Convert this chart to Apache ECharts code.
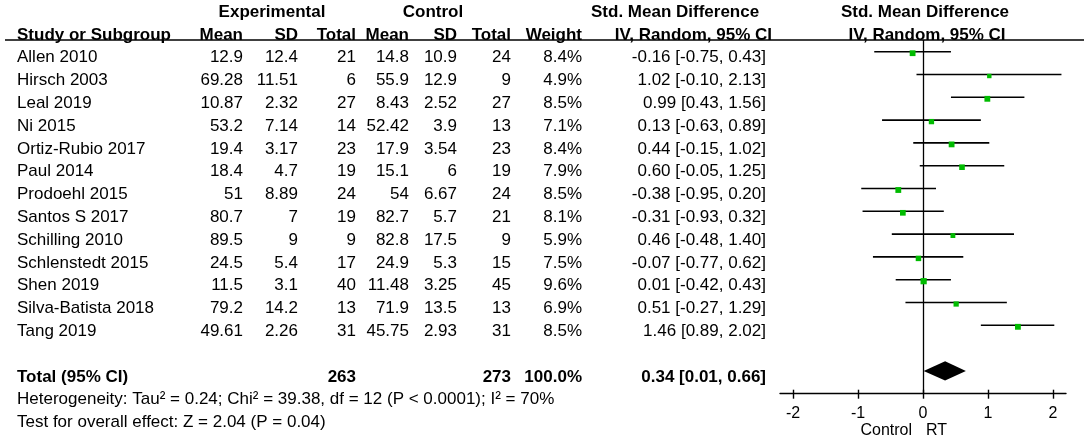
<!DOCTYPE html>
<html>
<head>
<meta charset="utf-8">
<title>Forest plot</title>
<script src="https://cdn.jsdelivr.net/npm/echarts@6/dist/echarts.min.js"></script>
<style>
	html, body {margin: 0; padding: 0; background: #fff;}
	#chart {width: 1084px; height: 441px;}
</style>
</head>
<body>
<div id="chart"></div>
<script>
// study rows
let studies = ['Allen 2010', 'Hirsch 2003', 'Leal 2019', 'Ni 2015', 'Ortiz-Rubio 2017', 'Paul 2014',
	'Prodoehl 2015', 'Santos S 2017', 'Schilling 2010', 'Schlenstedt 2015', 'Shen 2019',
	'Silva-Batista 2018', 'Tang 2019'];
let expMean = [12.9, 69.28, 10.87, 53.2, 19.4, 18.4, 51, 80.7, 89.5, 24.5, 11.5, 79.2, 49.61];
let expSD = [12.4, 11.51, 2.32, 7.14, 3.17, 4.7, 8.89, 7, 9, 5.4, 3.1, 14.2, 2.26];
let expN = [21, 6, 27, 14, 23, 19, 24, 19, 9, 17, 40, 13, 31];
let ctlMean = [14.8, 55.9, 8.43, 52.42, 17.9, 15.1, 54, 82.7, 82.8, 24.9, 11.48, 71.9, 45.75];
let ctlSD = [10.9, 12.9, 2.52, 3.9, 3.54, 6, 6.67, 5.7, 17.5, 5.3, 3.25, 13.5, 2.93];
let ctlN = [24, 9, 27, 13, 23, 19, 24, 21, 9, 15, 45, 13, 31];
let weight = [8.4, 4.9, 8.5, 7.1, 8.4, 7.9, 8.5, 8.1, 5.9, 7.5, 9.6, 6.9, 8.5];
let smd = [-0.16, 1.02, 0.99, 0.13, 0.44, 0.60, -0.38, -0.31, 0.46, -0.07, 0.01, 0.51, 1.46];
let lower = [-0.75, -0.10, 0.43, -0.63, -0.15, -0.05, -0.95, -0.93, -0.48, -0.77, -0.42, -0.27, 0.89];
let upper = [0.43, 2.13, 1.56, 0.89, 1.02, 1.25, 0.20, 0.32, 1.40, 0.62, 0.43, 1.29, 2.02];

// pooled result
let totalExpN = 263;
let totalCtlN = 273;
let totalWeight = 100.0;
let totalSmd = [0.34, 0.01, 0.66]; // estimate, lower, upper
let heterogeneity = 'Heterogeneity: Tau² = 0.24; Chi² = 39.38, df = 12 (P < 0.0001); I² = 70%';
let overallTest = 'Test for overall effect: Z = 2.04 (P = 0.04)';

let axisTicks = [-2, -1, 0, 1, 2];
let favours = ['Control', 'RT'];

// layout (pixels of the table columns, right edges unless noted)
let FONT = "'Liberation Sans', Arial, sans-serif";
let col = {name: 17, eMean: 243, eSD: 298, eN: 356, cMean: 409, cSD: 457, cN: 511, w: 582, ci: 766};
let ROW = 22.8;
let totalRow = studies.length + 1;

function ciText(e, l, u)
{
	return e.toFixed(2) + ' [' + l.toFixed(2) + ', ' + u.toFixed(2) + ']';
}

// all table cells, rows are row indexes (header rows negative)
let cells = [];
function cell(x, row, text, align, bold)
{
	cells.push({x: x, row: row, text: String(text), align: align || 'right', bold: !!bold});
}

cell(272, -2, 'Experimental', 'center', true);
cell(433, -2, 'Control', 'center', true);
cell(591, -2, 'Std. Mean Difference', 'left', true);
cell(925, -2, 'Std. Mean Difference', 'center', true);
cell(col.name, -1, 'Study or Subgroup', 'left', true);
cell(col.eMean, -1, 'Mean', 'right', true);
cell(col.eSD, -1, 'SD', 'right', true);
cell(col.eN, -1, 'Total', 'right', true);
cell(col.cMean, -1, 'Mean', 'right', true);
cell(col.cSD, -1, 'SD', 'right', true);
cell(col.cN, -1, 'Total', 'right', true);
cell(col.w, -1, 'Weight', 'right', true);
cell(772, -1, 'IV, Random, 95% CI', 'right', true);
cell(927, -1, 'IV, Random, 95% CI', 'center', true);

studies.forEach(function(s, i) {
	cell(col.name, i, s, 'left');
	cell(col.eMean, i, expMean[i]);
	cell(col.eSD, i, expSD[i]);
	cell(col.eN, i, expN[i]);
	cell(col.cMean, i, ctlMean[i]);
	cell(col.cSD, i, ctlSD[i]);
	cell(col.cN, i, ctlN[i]);
	cell(col.w, i, weight[i].toFixed(1) + '%');
	cell(col.ci, i, ciText(smd[i], lower[i], upper[i]));
});

cell(col.name, totalRow, 'Total (95% CI)', 'left', true);
cell(col.eN, totalRow, totalExpN, 'right', true);
cell(col.cN, totalRow, totalCtlN, 'right', true);
cell(col.w, totalRow, totalWeight.toFixed(1) + '%', 'right', true);
cell(col.ci, totalRow, ciText(totalSmd[0], totalSmd[1], totalSmd[2]), 'right', true);
cell(col.name, totalRow + 1, heterogeneity, 'left');
cell(col.name, totalRow + 2, overallTest, 'left');

let chart = echarts.init(document.getElementById('chart'));

// table grid: text centres sit 6px under the plot rows
let tableTop = 57.7 - 2.5 * ROW;
let plotTop = 51.7 - 0.5 * ROW;

let option = {
	animation: false,
	backgroundColor: '#fff',
	textStyle: {fontFamily: FONT},
	grid: [
		{left: 0, width: 1084, top: tableTop, height: 19 * ROW},
		{left: 780, width: 286, top: plotTop, height: 15.5 * ROW}
	],
	xAxis: [
		{gridIndex: 0, type: 'value', min: 0, max: 1084, show: false},
		{
			gridIndex: 1, type: 'value', min: -2.2, max: 2.2, position: 'bottom',
			axisLine: {onZero: false, lineStyle: {color: '#000', width: 1.4}},
			axisTick: {customValues: axisTicks, length: 5, lineStyle: {color: '#000', width: 1.4}},
			axisLabel: {customValues: axisTicks, color: '#000', fontSize: 16, margin: 12, fontFamily: FONT},
			splitLine: {show: false}
		},
		{
			// ticks reaching above the axis line
			gridIndex: 1, type: 'value', min: -2.2, max: 2.2, position: 'bottom',
			axisLine: {show: false, onZero: false},
			axisTick: {customValues: axisTicks, inside: true, length: 4, lineStyle: {color: '#000', width: 1.4}},
			axisLabel: {show: false},
			splitLine: {show: false}
		}
	],
	yAxis: [
		{gridIndex: 0, type: 'value', inverse: true, min: -2.5, max: 16.5, show: false},
		{
			gridIndex: 1, type: 'value', inverse: true, min: -0.5, max: 15,
			axisLine: {show: true, onZero: true, lineStyle: {color: '#000', width: 1.3}},
			axisTick: {show: false},
			axisLabel: {show: false},
			splitLine: {show: false}
		}
	],
	graphic: [
		{
			type: 'line', z: 10,
			shape: {x1: 5, y1: 40, x2: 1084, y2: 40},
			style: {stroke: '#000', lineWidth: 1.5}
		}
	],
	series: [
		{
			type: 'custom', name: 'table',
			xAxisIndex: 0, yAxisIndex: 0,
			data: cells.map(function(c) { return [c.x, c.row]; }),
			renderItem: function(params, api)
			{
				let c = cells[params.dataIndex],
					p = api.coord([c.x, c.row]);
				return {
					type: 'text',
					x: p[0], y: p[1],
					style: {
						text: c.text,
						align: c.align,
						verticalAlign: 'middle',
						fill: '#000',
						font: (c.bold ? 'bold ' : '') + '17px ' + FONT
					}
				};
			}
		},
		{
			type: 'custom', name: 'ci',
			xAxisIndex: 1, yAxisIndex: 1,
			data: studies.map(function(s, i) { return [lower[i], upper[i], i]; }),
			renderItem: function(params, api)
			{
				let a = api.coord([api.value(0), api.value(2)]),
					b = api.coord([api.value(1), api.value(2)]);
				return {
					type: 'line',
					shape: {x1: a[0], y1: a[1], x2: b[0], y2: b[1]},
					style: {stroke: '#000', lineWidth: 1.6}
				};
			}
		},
		{
			type: 'scatter', name: 'smd',
			xAxisIndex: 1, yAxisIndex: 1,
			symbol: 'rect',
			symbolOffset: [0, 1.5],
			symbolSize: function(v) { return Math.sqrt(v[2]) * 2; },
			itemStyle: {color: '#00bb00', opacity: 1},
			z: 5,
			data: studies.map(function(s, i) { return [smd[i], i, weight[i]]; })
		},
		{
			type: 'custom', name: 'total',
			xAxisIndex: 1, yAxisIndex: 1,
			data: [[totalSmd[0], totalSmd[1], totalSmd[2], totalRow]],
			renderItem: function(params, api)
			{
				let r = api.value(3),
					h = 0.42,
					pts = [
						api.coord([api.value(1), r]),
						api.coord([api.value(0), r - h]),
						api.coord([api.value(2), r]),
						api.coord([api.value(0), r + h])
					];
				return {
					type: 'polygon',
					shape: {points: pts},
					style: {fill: '#000'}
				};
			}
		}
	]
};

chart.setOption(option);

// favours labels under the zero tick
let zeroX = chart.convertToPixel({xAxisIndex: 1}, 0);
chart.setOption({
	graphic: [
		{
			type: 'line', z: 10,
			shape: {x1: 5, y1: 40, x2: 1084, y2: 40},
			style: {stroke: '#000', lineWidth: 1.5}
		},
		{
			type: 'text', x: zeroX - 11, y: 431,
			style: {text: favours[0], align: 'right', verticalAlign: 'middle', font: '16px ' + FONT, fill: '#000'}
		},
		{
			type: 'text', x: zeroX + 3, y: 431,
			style: {text: favours[1], align: 'left', verticalAlign: 'middle', font: '16px ' + FONT, fill: '#000'}
		}
	]
});
</script>
</body>
</html>
